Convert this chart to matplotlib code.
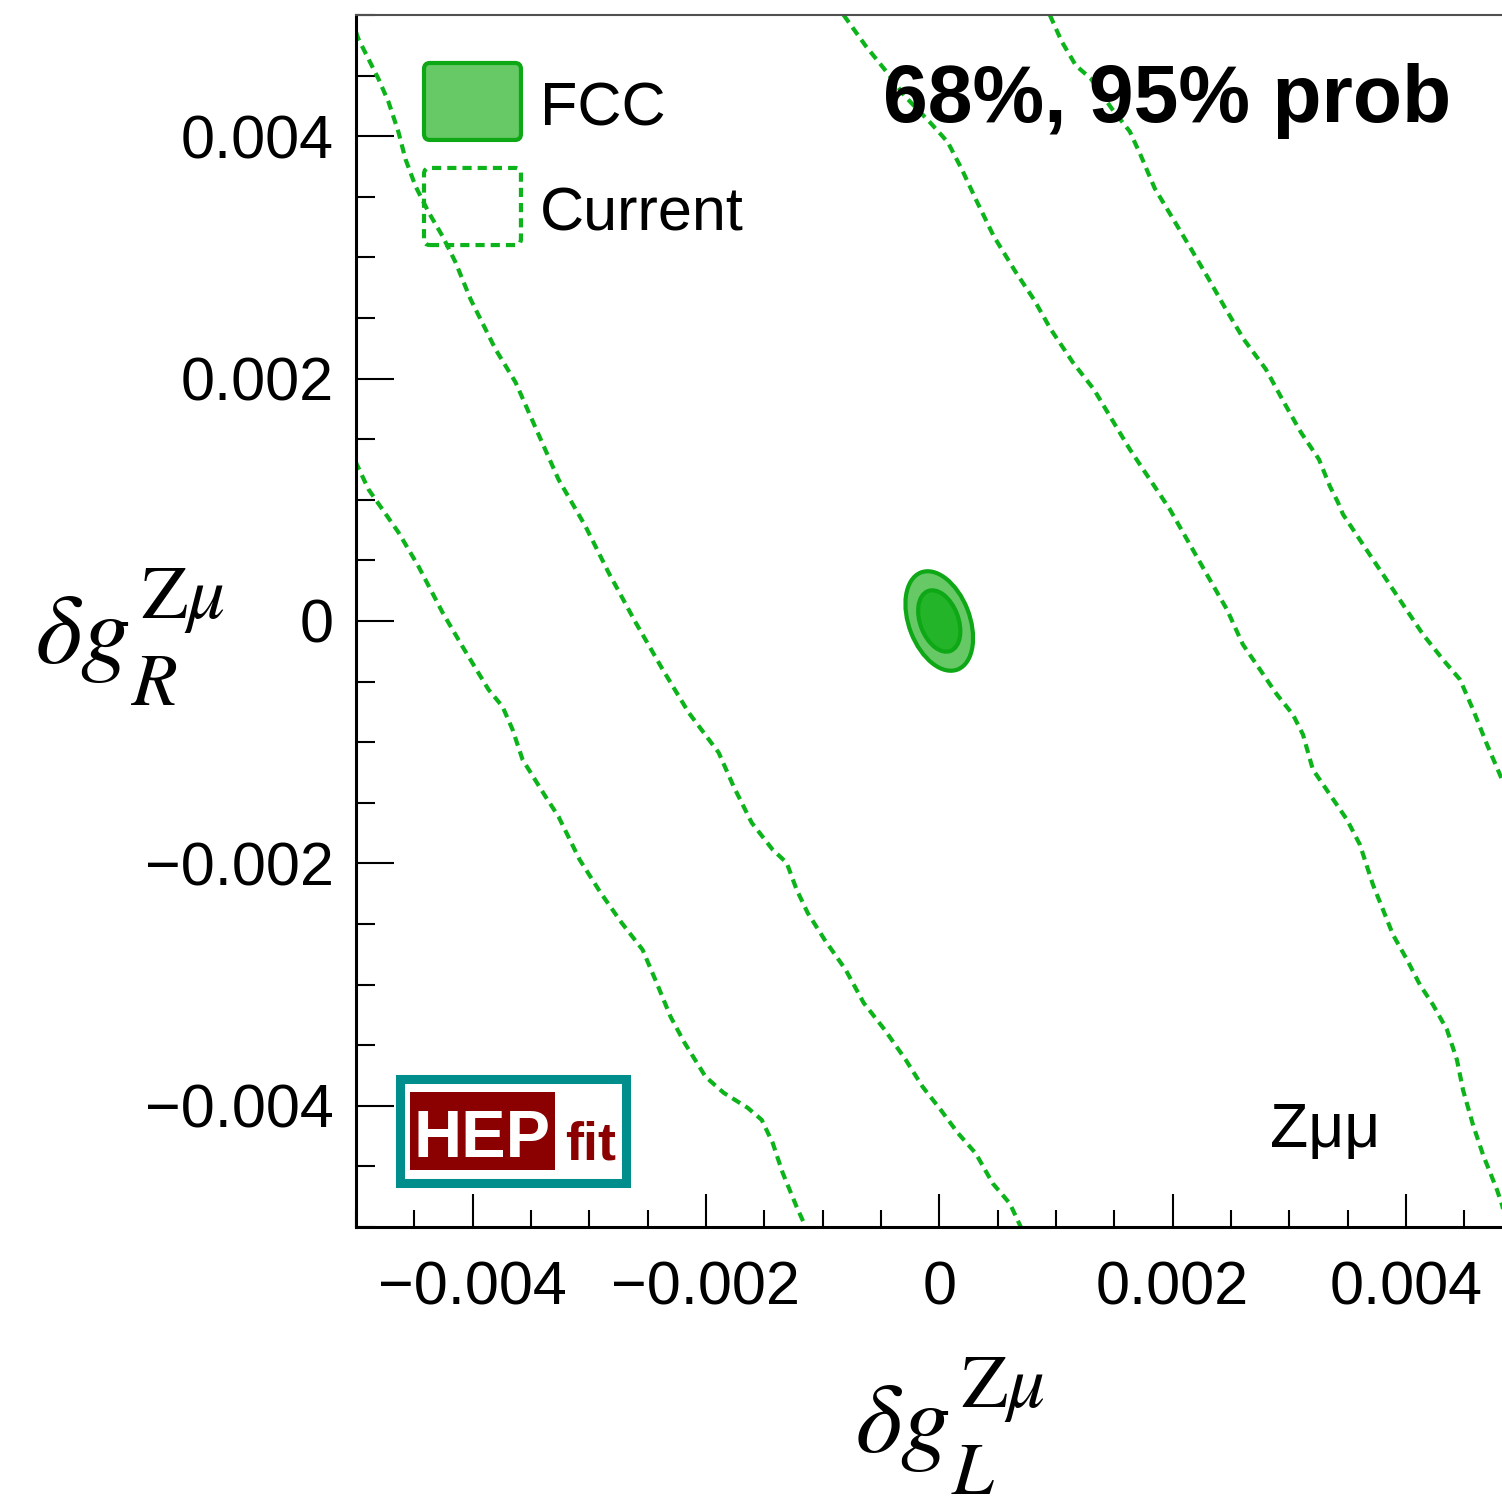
import numpy as np
import matplotlib
matplotlib.use("Agg")
import matplotlib.pyplot as plt
from matplotlib.patches import Ellipse, Rectangle, FancyBboxPatch
from matplotlib.ticker import MultipleLocator, FuncFormatter

plt.rcParams['font.family'] = ['Liberation Sans', 'DejaVu Sans']
plt.rcParams['mathtext.fontset'] = 'stix'

# Current constraints (dashed contours), coordinates in units of 1e-3
# 95% region, left boundary
cur95_left_x = [-5.005, -4.893, -4.636, -4.464, -4.258, -4.087, -3.864, -3.744, -3.658,
                -3.572, -3.375, -3.264, -3.083, -2.903, -2.723, -2.543, -2.423, -2.303,
                -2.183, -2.003, -1.848, -1.642, -1.522, -1.428, -1.342, -1.222, -1.145]
cur95_left_y = [1.317, 1.086, 0.731, 0.450, 0.070, -0.211, -0.566, -0.706, -0.896,
                -1.144, -1.449, -1.614, -1.969, -2.242, -2.490, -2.713, -2.985, -3.266,
                -3.481, -3.761, -3.893, -4.017, -4.116, -4.306, -4.554, -4.835, -5.0]
# 68% region, left boundary
cur68_left_x = [-5.0, -4.979, -4.893, -4.807, -4.721, -4.636, -4.576, -4.490, -4.378,
                -4.258, -4.147, -4.018, -3.804, -3.632, -3.443, -3.264, -3.032, -2.835,
                -2.603, -2.371, -2.148, -1.891, -1.762, -1.608, -1.428, -1.308, -1.222,
                -1.128, -0.982, -0.802, -0.648, -0.467, -0.287, -0.142, 0.013, 0.159,
                0.313, 0.459, 0.605, 0.699]
cur68_left_y = [4.86, 4.802, 4.637, 4.472, 4.282, 4.034, 3.811, 3.588, 3.373,
                3.175, 2.960, 2.655, 2.242, 1.969, 1.556, 1.168, 0.780, 0.400,
                -0.012, -0.400, -0.756, -1.086, -1.367, -1.664, -1.887, -1.995, -2.218,
                -2.408, -2.631, -2.878, -3.151, -3.374, -3.621, -3.844, -4.034, -4.224,
                -4.393, -4.641, -4.806, -5.0]
# 68% region, right boundary
cur68_right_x = [-0.82, -0.630, -0.450, -0.296, -0.081, 0.073, 0.193, 0.313, 0.467,
                 0.656, 0.810, 0.956, 1.145, 1.325, 1.479, 1.634, 1.788, 1.977,
                 2.148, 2.294, 2.466, 2.603, 2.749, 2.895, 3.032, 3.118, 3.203,
                 3.349, 3.495, 3.606, 3.718, 3.804, 3.890, 4.010, 4.121, 4.233,
                 4.353, 4.438, 4.490, 4.576, 4.662, 4.782, 4.825, 4.87]
cur68_right_y = [5.0, 4.744, 4.529, 4.331, 4.116, 3.951, 3.728, 3.480, 3.175,
                 2.878, 2.655, 2.407, 2.134, 1.912, 1.664, 1.416, 1.193, 0.921,
                 0.632, 0.384, 0.095, -0.194, -0.400, -0.607, -0.772, -0.937, -1.226,
                 -1.432, -1.639, -1.845, -2.176, -2.382, -2.589, -2.795, -3.002, -3.167,
                 -3.373, -3.621, -3.869, -4.158, -4.405, -4.695, -4.819, -5.0]
# 95% region, right boundary
cur95_right_x = [0.948, 1.050, 1.171, 1.299, 1.479, 1.634, 1.728, 1.848, 2.003,
                 2.157, 2.311, 2.457, 2.611, 2.800, 2.955, 3.100, 3.255, 3.349,
                 3.418, 3.461, 3.632, 3.804, 3.975, 4.147, 4.318, 4.464, 4.576,
                 4.696, 4.825, 5.0]
cur95_right_y = [5.0, 4.781, 4.583, 4.476, 4.228, 4.038, 3.840, 3.568, 3.320,
                 3.072, 2.820, 2.572, 2.324, 2.077, 1.804, 1.557, 1.334, 1.111,
                 0.979, 0.880, 0.632, 0.384, 0.136, -0.111, -0.318, -0.483, -0.731,
                 -1.020, -1.309, -1.62]

# FCC projection: 68% / 95% ellipses
fcc_center = (0.0, 0.0)
fcc95_semi = (0.43e-3, 0.26e-3)
fcc68_semi = (0.265e-3, 0.163e-3)
fcc_angle = 112

green_line = '#0cb31a'
green_edge = '#0ea816'
green_light = '#66c966'
green_dark = '#24b42a'

W, H = 1502, 1501
fig = plt.figure(figsize=(W / 100, H / 100), dpi=100)
ax = fig.add_axes([356 / W, 274 / H, 1166.5 / W, 1212 / H])
ax.set_xlim(-0.005, 0.005)
ax.set_ylim(-0.005, 0.005)

dash = (0, (2.2, 1.45))
for xs, ys in [(cur95_left_x, cur95_left_y), (cur68_left_x, cur68_left_y),
               (cur68_right_x, cur68_right_y), (cur95_right_x, cur95_right_y)]:
    ax.plot(np.array(xs) * 1e-3, np.array(ys) * 1e-3, color=green_line,
            lw=3.0, linestyle=dash, zorder=2)

ax.add_patch(Ellipse(fcc_center, 2 * fcc95_semi[0], 2 * fcc95_semi[1], angle=fcc_angle,
                     facecolor=green_light, edgecolor=green_edge, lw=3, zorder=3))
ax.add_patch(Ellipse(fcc_center, 2 * fcc68_semi[0], 2 * fcc68_semi[1], angle=fcc_angle,
                     facecolor=green_dark, edgecolor=green_edge, lw=3, zorder=4))

# axes styling
for side in ['left', 'bottom']:
    ax.spines[side].set_linewidth(2.2)
ax.spines['top'].set_linewidth(1.5)
ax.spines['top'].set_color('#505050')

ax.xaxis.set_major_locator(MultipleLocator(0.002))
ax.xaxis.set_minor_locator(MultipleLocator(0.0005))
ax.yaxis.set_major_locator(MultipleLocator(0.002))
ax.yaxis.set_minor_locator(MultipleLocator(0.0005))


def fmt(v, pos):
    s = '%g' % round(v, 6)
    if s in ('-0', '0'):
        return '0'
    return s.replace('-', '\u2212')


ax.xaxis.set_major_formatter(FuncFormatter(fmt))
ax.yaxis.set_major_formatter(FuncFormatter(fmt))
ax.tick_params(axis='x', which='major', direction='in', length=24, width=1.5,
               labelsize=44, pad=24, top=False)
ax.tick_params(axis='x', which='minor', direction='in', length=12, width=1.5, top=False)
ax.tick_params(axis='y', which='major', direction='in', length=27, width=1.5,
               labelsize=44, pad=16, right=False)
ax.tick_params(axis='y', which='minor', direction='in', length=14, width=1.5, right=False)

# legend
tr = ax.transAxes
ax.add_patch(FancyBboxPatch((0.0583, 0.8969), 0.0831, 0.0635,
                            boxstyle='round,pad=0,rounding_size=0.005', transform=tr,
                            facecolor=green_light, edgecolor=green_edge, lw=3, zorder=5))
ax.add_patch(FancyBboxPatch((0.0583, 0.8102), 0.0831, 0.0636,
                            boxstyle='round,pad=0,rounding_size=0.005', transform=tr,
                            facecolor='none', edgecolor=green_line, lw=3,
                            linestyle=dash, zorder=5))
ax.text(0.1577, 0.9092, 'FCC', transform=tr, fontsize=44, va='baseline', ha='left')
ax.text(0.1577, 0.8226, 'Current', transform=tr, fontsize=44, va='baseline', ha='left')

ax.text(0.4518, 0.9117, '68%, 95% prob', transform=tr, fontsize=58,
        fontweight='bold', va='baseline', ha='left')
ax.text(0.7835, 0.066, 'Z\u03bc\u03bc', transform=tr, fontsize=45,
        va='baseline', ha='left')

# HEPfit logo
ax.add_patch(Rectangle((0.0381, 0.0367), 0.1937, 0.0850, transform=tr,
                       facecolor='white', edgecolor='#008e8c', lw=6.5, zorder=6))
ax.add_patch(Rectangle((0.0463, 0.0470), 0.1243, 0.0644, transform=tr,
                       facecolor='#8b0000', edgecolor='none', zorder=7))
ax.text(0.0489, 0.0578, 'HEP', transform=tr, fontsize=48, fontweight='bold',
        color='white', va='baseline', ha='left', zorder=8)
ax.text(0.1792, 0.0553, 'fit', transform=tr, fontsize=39, fontweight='bold',
        color='#8b0000', va='baseline', ha='left', zorder=8)


# axis titles: main symbol, superscript and subscript placed separately
def axis_title(x0, base, sub):
    fig.text(x0 / W, 1 - base / H, r'$\delta g$', fontsize=72, ha='left', va='baseline')
    fig.text((x0 + 106) / W, 1 - (base - 45) / H, r'$\mathrm{Z}\mu$', fontsize=54,
             ha='left', va='baseline')
    fig.text((x0 + 96) / W, 1 - (base + 42) / H, r'$%s$' % sub, fontsize=54,
             ha='left', va='baseline')


axis_title(35, 663, 'R')
axis_title(855, 1452, 'L')

fig.savefig('out.png', dpi=100)
